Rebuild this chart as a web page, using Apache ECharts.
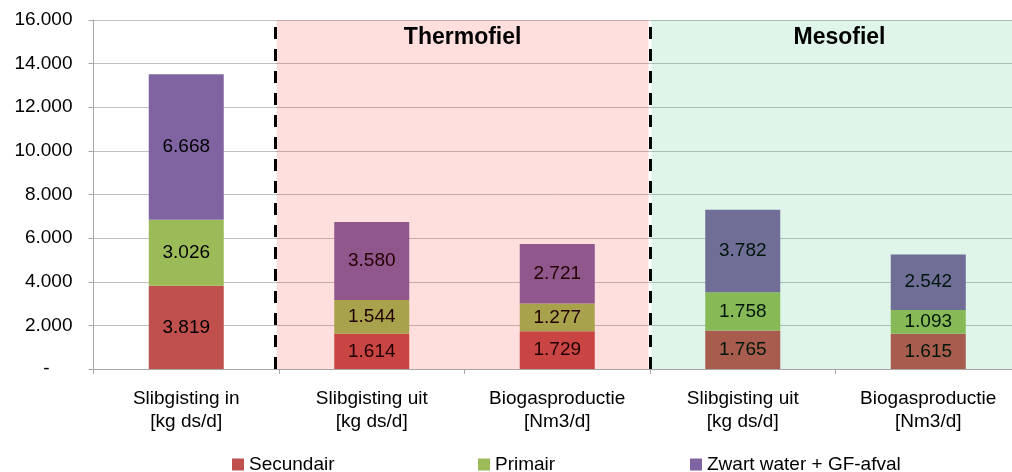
<!DOCTYPE html>
<html>
<head>
<meta charset="utf-8">
<script src="https://cdn.jsdelivr.net/npm/echarts@6/dist/echarts.min.js"></script>
<style>html,body{margin:0;padding:0;background:#fff;overflow:hidden}#c{width:1022px;height:472px}</style>
</head>
<body>
<div id="c"></div>
<script>
var categories = ['Slibgisting in\n[kg ds/d]', 'Slibgisting uit\n[kg ds/d]', 'Biogasproductie\n[Nm3/d]', 'Slibgisting uit\n[kg ds/d]', 'Biogasproductie\n[Nm3/d]'];
var secundair = [3819, 1614, 1729, 1765, 1615];
var primair = [3026, 1544, 1277, 1758, 1093];
var zwartWater = [6668, 3580, 2721, 3782, 2542];
var seriesNames = ['Secundair', 'Primair', 'Zwart water + GF-afval'];
var regionNames = ['Thermofiel', 'Mesofiel'];
var regionStart = [0.98, 3.0];
var regionEnd = [3.0, 5.0];

function fmt(v) { return String(v).replace(/\B(?=(\d{3})+(?!\d))/g, '.'); }
var FONT = 'Liberation Sans, Arial, sans-serif';
var FS = 19;
var regionColors = ['rgba(255,0,0,0.13)', 'rgba(0,176,80,0.125)'];
var titleShift = [0, 4];
var legendLeft = [227, 473, 685];

function barSeries(name, data, color) {
  return {
    name: name, type: 'bar', stack: 'total', data: data, barWidth: 75, z: 2,
    itemStyle: { color: color },
    label: { show: true, position: 'inside', color: '#000', fontSize: FS, fontFamily: FONT,
      formatter: function (p) { return fmt(p.value); } }
  };
}

var regionData = regionNames.map(function (n, i) { return [regionStart[i], regionEnd[i], i]; });

var legends = seriesNames.map(function (n, i) {
  return {
    data: [n], left: legendLeft[i], top: 450, itemWidth: 12, itemHeight: 12, itemGap: 5,
    icon: 'rect', textStyle: { fontSize: FS, color: '#000', fontFamily: FONT }
  };
});

var chart = echarts.init(document.getElementById('c'));
chart.setOption({
  animation: false,
  textStyle: { fontFamily: FONT },
  grid: { left: 93.5, right: 1, top: 20, bottom: 103 },
  legend: legends,
  xAxis: [{
    type: 'category', data: categories,
    axisLine: { lineStyle: { color: '#a6a6a6' } },
    axisTick: { show: true, length: 5, lineStyle: { color: '#a6a6a6' } },
    axisLabel: { color: '#000', fontSize: FS, lineHeight: 23, margin: 18, fontFamily: FONT, interval: 0 }
  }, {
    type: 'value', min: 0, max: 5, show: false
  }],
  yAxis: {
    type: 'value', min: 0, max: 16000, interval: 2000,
    axisLine: { show: true, lineStyle: { color: '#a6a6a6' } },
    axisTick: { show: true, length: 5, lineStyle: { color: '#a6a6a6' } },
    splitLine: { lineStyle: { color: '#c0c0c0' } },
    axisLabel: {
      color: '#000', fontSize: FS, margin: 21, fontFamily: FONT,
      formatter: function (v) { return v === 0 ? '{d|-}' : fmt(v); },
      rich: { d: { fontSize: FS, color: '#000', padding: [0, 23, 0, 0], fontFamily: FONT } }
    }
  },
  series: [
    barSeries(seriesNames[0], secundair, '#C0504D'),
    barSeries(seriesNames[1], primair, '#9BBB59'),
    barSeries(seriesNames[2], zwartWater, '#8064A2'),
    {
      type: 'custom', xAxisIndex: 1, yAxisIndex: 0, z: 20, silent: true,
      data: regionData,
      renderItem: function (params, api) {
        var s = api.value(0), e = api.value(1), idx = api.value(2);
        var tl = api.coord([s, 16000]);
        var br = api.coord([e, 0]);
        var x0 = tl[0] + 1.5, x1 = br[0] - 1.5;
        return {
          type: 'group',
          children: [
            { type: 'rect', shape: { x: x0, y: tl[1], width: x1 - x0, height: br[1] - tl[1] },
              style: { fill: regionColors[idx] } },
            { type: 'text', x: (tl[0] + br[0]) / 2 + titleShift[idx], y: tl[1] + 18,
              style: { text: regionNames[idx], fill: '#000', font: 'bold 23px ' + FONT, align: 'center', verticalAlign: 'middle' } }
          ]
        };
      }
    },
    {
      type: 'line', xAxisIndex: 1, yAxisIndex: 0, data: [], z: 30, silent: true,
      markLine: {
        silent: true, symbol: 'none', label: { show: false },
        lineStyle: { color: '#000', width: 3, type: [12, 10] },
        data: [{ xAxis: regionStart[0] }, { xAxis: regionStart[1] }]
      }
    }
  ]
});
</script>
</body>
</html>
